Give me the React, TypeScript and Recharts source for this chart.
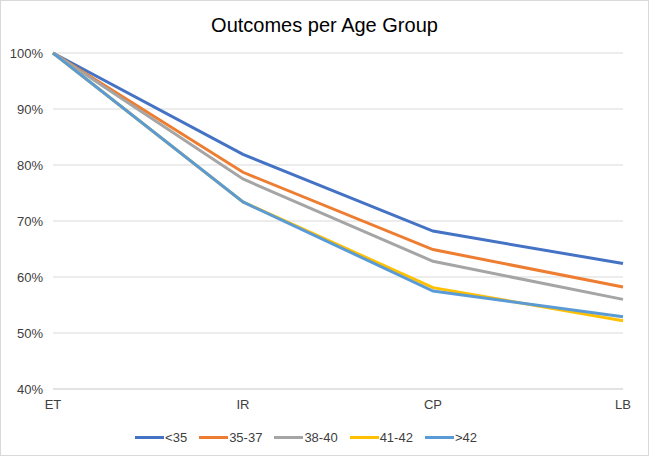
import { LineChart, Line, XAxis, YAxis, CartesianGrid, Legend } from 'recharts';

const stages = ['ET', 'IR', 'CP', 'LB'];

const under35 = [1.0, 0.819, 0.682, 0.624];
const age35to37 = [1.0, 0.787, 0.649, 0.582];
const age38to40 = [1.0, 0.775, 0.628, 0.56];
const age41to42 = [1.0, 0.734, 0.581, 0.522];
const over42 = [1.0, 0.734, 0.575, 0.529];

const yTicks = [0.4, 0.5, 0.6, 0.7, 0.8, 0.9, 1.0];

const seriesList = [
  { key: '<35', values: under35, color: '#4472C4' },
  { key: '35-37', values: age35to37, color: '#ED7D31' },
  { key: '38-40', values: age38to40, color: '#A5A5A5' },
  { key: '41-42', values: age41to42, color: '#FFC000' },
  { key: '>42', values: over42, color: '#5B9BD5' },
];

const data = stages.map((stage, i) => {
  const row: Record<string, string | number> = { stage };
  seriesList.forEach((s) => {
    row[s.key] = s.values[i];
  });
  return row;
});

const font = '"Liberation Sans", Arial, Helvetica, sans-serif';

// keep series order (Recharts sorts legend items by name otherwise)
const LegendRow = () => (
  <div style={{ display: 'flex', justifyContent: 'center', alignItems: 'center', paddingTop: 12 }}>
    {seriesList.map((s) => (
      <div key={s.key} style={{ display: 'flex', alignItems: 'center', marginRight: 12 }}>
        <div style={{ width: 29, height: 3, background: s.color, marginRight: 1 }} />
        <span style={{ fontSize: 13, color: '#404040' }}>{s.key}</span>
      </div>
    ))}
  </div>
);

const App = () => (
  <div
    style={{
      position: 'absolute',
      left: 0,
      top: 0,
      width: 649,
      height: 456,
      boxSizing: 'border-box',
      border: '1px solid #d9d9d9',
      background: '#fff',
      fontFamily: font,
    }}
  >
    <div
      style={{
        position: 'absolute',
        top: 13,
        left: 0,
        width: '100%',
        textAlign: 'center',
        fontSize: 20,
        color: '#000',
      }}
    >
      Outcomes per Age Group
    </div>
    <LineChart
      width={647}
      height={454}
      data={data}
      margin={{ top: 52, right: 25, bottom: 1, left: 0 }}
      style={{ position: 'absolute', left: 0, top: 0 }}
    >
      <CartesianGrid vertical={false} stroke="#d9d9d9" />
      <XAxis
        dataKey="stage"
        height={29}
        axisLine={{ stroke: '#d9d9d9' }}
        tickLine={false}
        tick={{ fontSize: 13, fill: '#404040', fontFamily: font, dy: 3 }}
      />
      <YAxis
        width={52}
        domain={[0.4, 1]}
        ticks={yTicks}
        axisLine={false}
        tickLine={false}
        tickMargin={4}
        tickFormatter={(v: number) => `${Math.round(v * 100)}%`}
        tick={{ fontSize: 13, fill: '#404040', fontFamily: font }}
      />
      <Legend verticalAlign="bottom" height={36} content={() => <LegendRow />} />
      {seriesList.map((s) => (
        <Line
          key={s.key}
          type="linear"
          dataKey={s.key}
          stroke={s.color}
          strokeWidth={3}
          dot={false}
          activeDot={false}
          isAnimationActive={false}
        />
      ))}
    </LineChart>
  </div>
);

export default App;
